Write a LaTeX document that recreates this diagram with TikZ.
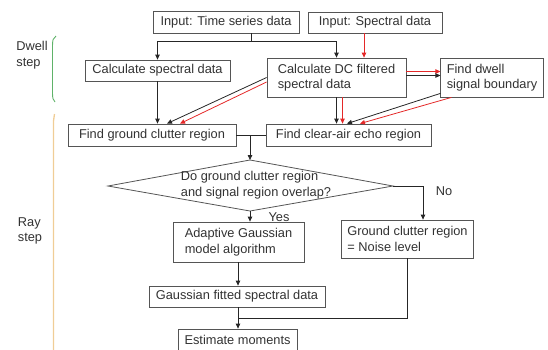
\documentclass[tikz,border=0pt]{standalone}
\usepackage{fontspec}
\setmainfont{Liberation Sans}
\usetikzlibrary{arrows.meta,calc}
\definecolor{edgegray}{RGB}{85,85,85}
\definecolor{textgray}{RGB}{50,50,50}
\definecolor{flowred}{RGB}{228,40,40}
\definecolor{dwellgreen}{RGB}{95,178,105}
\definecolor{rayorange}{RGB}{240,205,150}
\begin{document}
\begin{tikzpicture}[x=1pt,y=-1pt,
  font=\fontsize{12.8}{15.5}\selectfont, text=textgray,
  box/.style={draw=edgegray, line width=0.8pt, inner xsep=6pt, inner ysep=0pt, align=left},
  plain/.style={inner sep=0pt, align=left},
  flow/.style={draw=black!85, line width=0.8pt},
  arr/.style={flow, -{Triangle[length=5pt,width=4.5pt]}},
  redarr/.style={draw=flowred, line width=0.8pt, -{Triangle[length=5pt,width=4.5pt]}},
]
\useasboundingbox (0,0) rectangle (548,349);

% boxes
\node[box, minimum width=146pt, minimum height=22pt] (ts) at (226,22) {Input: Time series data};
\node[box, minimum width=134pt, minimum height=21pt] (sp) at (375,22.5) {Input: Spectral data};
\node[box, minimum width=145pt, minimum height=21pt] (cs) at (157.5,70.5) {Calculate spectral data};
\node[box, minimum width=139pt, minimum height=39pt] (dc) at (336.5,77.5) {Calculate DC filtered\\spectral data};
\node[box, minimum width=102pt, minimum height=39pt] (dw) at (492,77.5) {Find dwell\\signal boundary};
\node[box, minimum width=168pt, minimum height=22pt] (gc) at (152,135) {Find ground clutter region};
\node[box, minimum width=165pt, minimum height=22pt] (ca) at (348.5,135) {Find clear-air echo region};
\node[box, minimum width=131pt, minimum height=40pt] (ad) at (238.5,242) {Adaptive Gaussian\\model algorithm};
\node[box, minimum width=131pt, minimum height=38pt] (nl) at (407.5,239) {Ground clutter region\\= Noise level};
\node[box, minimum width=176pt, minimum height=21pt] (gf) at (237,296.5) {Gaussian fitted spectral data};
\node[box, minimum width=119pt, minimum height=22pt] (em) at (237.5,340) {Estimate moments};

% decision diamond
\coordinate (dT) at (250,160);
\coordinate (dR) at (393,186);
\coordinate (dB) at (250,211);
\coordinate (dL) at (108,186);
\draw[draw=edgegray, line width=0.8pt] (dL) -- (dT) -- (dR) -- (dB) -- cycle;
\node[plain] (q) at (256,185) {Do ground clutter region\\and signal region overlap?};
\node[plain] (yes) at (279,217) {Yes};
\node[plain] (no) at (444,191) {No};

% helper columns
\coordinate (j1) at (251,41);
\coordinate (rx) at (364,0);
\coordinate (nx) at (423,186);
\coordinate (col) at (238,0);
\coordinate (mj) at (238,318);

% dwell step connectors
\draw[flow] (ts.south -| j1) -- (j1);
\draw[arr] (j1) -| (cs.north);
\draw[arr] (j1) -| (dc.north);
\draw[redarr] (sp.south -| rx) -- (dc.north -| rx);
\draw[arr] (cs.south) -- (cs.south |- gc.north);
\draw[arr] (dc.west) -- ($(gc.north)+(15,0)$);
\draw[redarr] ($(dc.west)+(0,4.5)$) -- ($(gc.north)+(28,0)$);
\draw[redarr] ($(dc.east)+(0,-6)$) -- ($(dw.west)+(0,-6)$);
\draw[arr] ($(dc.east)+(0,-2)$) -- ($(dw.west)+(0,-2)$);
\draw[arr] (dc.south) -- (dc.south |- ca.north);
\draw[redarr] ($(dc.south)+(6,0)$) -- ($(dc.south |- ca.north)+(6,0)$);
\draw[arr] ($(dw.south west)+(0,-4)$) -- ($(ca.north)+(-1.5,0)$);
\draw[redarr] ($(dw.south west)+(11,0)$) -- ($(ca.north)+(11.5,0)$);

% ray step connectors
\draw[flow] (gc.east) -- (ca.west);
\draw[arr] (gc.east -| dT) -- (dT);
\draw[arr] (dB) -- (ad.north -| dB);
\draw[arr] (dR) -- (nx) -- (nl.north -| nx);
\draw[arr] (ad.south -| col) -- (gf.north -| col);
\draw[arr] (gf.south -| col) -- (em.north -| col);
\draw[flow] (nl.south) |- (mj);

% step brackets
\draw[dwellgreen, line width=0.9pt] (56,36) .. controls (53,38) and (52.5,40) .. (52.5,46) -- (52.5,93) .. controls (52.5,98) and (53,100) .. (55,102);
\draw[rayorange, line width=1.3pt] (54.5,114) -- (53.5,121) -- (53.5,352);
\node[plain] (dwell) at (32,55) {Dwell\\step};
\node[plain] (ray) at (30,231) {Ray\\step};
\end{tikzpicture}
\end{document}
